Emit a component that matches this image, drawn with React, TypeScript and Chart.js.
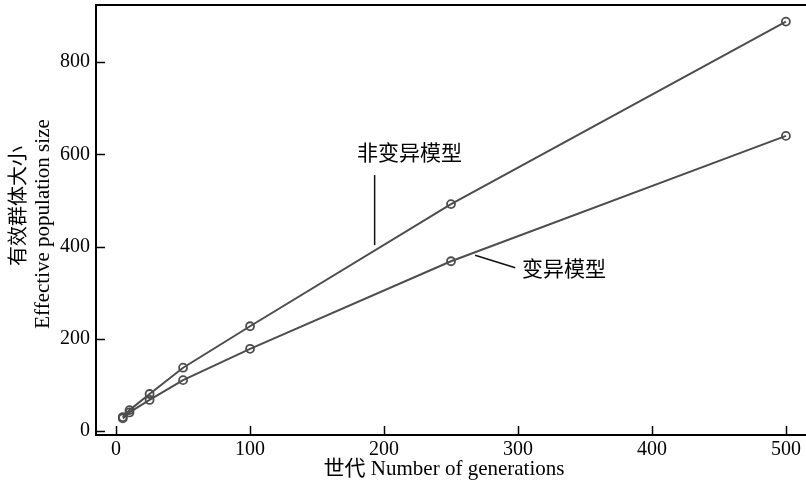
import { useEffect, useRef } from "react";
import { Chart, registerables } from "chart.js";

Chart.register(...registerables);

const generations = [5, 10, 25, 50, 100, 250, 500];
const nonMutationModel = [30, 45, 80, 137, 227, 492, 888];
const mutationModel = [27, 40, 67, 110, 178, 368, 640];
const xTickValues = [0, 100, 200, 300, 400, 500];
const yTickValues = [0, 200, 400, 600, 800];
const seriesLabels = ["非变异模型", "变异模型"];
const xTitle = "世代 Number of generations";
const yTitle = ["有效群体大小", "Effective population size"];

const FONT = "'Liberation Serif', 'Noto Sans CJK SC', serif";
const LINE_COLOR = "#4d4d4d";

const annotationPlugin = {
  id: "annotations",
  afterDraw(chart: any) {
    const { ctx, chartArea, scales } = chart;
    const x = scales.x;
    const y = scales.y;
    ctx.save();
    // top border
    ctx.strokeStyle = "#000";
    ctx.lineWidth = 2;
    ctx.beginPath();
    ctx.moveTo(chartArea.left - 1, chartArea.top);
    ctx.lineTo(chartArea.right + 2, chartArea.top);
    ctx.stroke();
    // inward ticks
    ctx.lineWidth = 1.5;
    x.ticks.forEach((t: any) => {
      const px = Math.round(x.getPixelForValue(t.value)) + 0.5;
      ctx.beginPath();
      ctx.moveTo(px, chartArea.bottom);
      ctx.lineTo(px, chartArea.bottom - 9);
      ctx.stroke();
    });
    y.ticks.forEach((t: any) => {
      const py = Math.round(y.getPixelForValue(t.value)) + 0.5;
      ctx.beginPath();
      ctx.moveTo(chartArea.left, py);
      ctx.lineTo(chartArea.left + 9, py);
      ctx.stroke();
    });
    // annotation leader lines
    ctx.strokeStyle = "#111";
    ctx.lineWidth = 1.5;
    ctx.beginPath();
    ctx.moveTo(x.getPixelForValue(193), y.getPixelForValue(555));
    ctx.lineTo(x.getPixelForValue(193), y.getPixelForValue(403));
    ctx.stroke();
    ctx.beginPath();
    ctx.moveTo(x.getPixelForValue(268), y.getPixelForValue(381));
    ctx.lineTo(x.getPixelForValue(298), y.getPixelForValue(354));
    ctx.stroke();
    // annotation texts
    ctx.fillStyle = "#000";
    ctx.font = `21px ${FONT}`;
    ctx.textBaseline = "middle";
    ctx.textAlign = "center";
    ctx.fillText(seriesLabels[0], x.getPixelForValue(219), y.getPixelForValue(599));
    ctx.textAlign = "left";
    ctx.fillText(seriesLabels[1], x.getPixelForValue(303), y.getPixelForValue(349));

    // axis titles
    ctx.textAlign = "center";
    ctx.textBaseline = "middle";
    ctx.font = `21px ${FONT}`;
    ctx.fillText(xTitle, 444, chartArea.bottom + 34);

    ctx.save();
    ctx.translate(20, chartArea.top + 201);
    ctx.rotate(-Math.PI / 2);
    ctx.font = `20px ${FONT}`;
    ctx.fillText(yTitle[0], 0, 0);
    ctx.restore();
    ctx.save();
    ctx.translate(43, chartArea.top + 219);
    ctx.rotate(-Math.PI / 2);
    ctx.font = `21px ${FONT}`;
    ctx.fillText(yTitle[1], 0, 0);
    ctx.restore();

    ctx.restore();
  },
};

export default function App() {
  const canvasRef = useRef<HTMLCanvasElement | null>(null);

  useEffect(() => {
    if (!canvasRef.current) return;
    const makeDataset = (label: string, values: number[]) => ({
      label,
      data: generations.map((g, i) => ({ x: g, y: values[i] })),
      borderColor: LINE_COLOR,
      borderWidth: 2,
      pointRadius: 4,
      pointBorderWidth: 1.8,
      pointBorderColor: LINE_COLOR,
      pointBackgroundColor: "rgba(255,255,255,0)",
      fill: false,
      tension: 0,
    });
    const chart = new Chart(canvasRef.current, {
      type: "line",
      data: {
        datasets: [
          makeDataset(seriesLabels[0], nonMutationModel),
          makeDataset(seriesLabels[1], mutationModel),
        ],
      },
      options: {
        animation: false,
        responsive: true,
        maintainAspectRatio: false,
        layout: { autoPadding: false, padding: { top: 5, right: 0, left: 0, bottom: 0 } },
        plugins: {
          legend: { display: false },
          tooltip: { enabled: false },
        },
        scales: {
          x: {
            type: "linear",
            min: -15,
            max: 515,
            grid: { display: false, drawTicks: false },
            border: { display: true, color: "#000", width: 2 },
            afterBuildTicks: (s: any) => {
              s.ticks = xTickValues.map((v) => ({ value: v }));
            },
            afterFit: (s: any) => {
              s.height = 52;
              s.paddingLeft = 0;
              s.paddingRight = 0;
            },
            ticks: {
              color: "#000",
              padding: 3,
              maxRotation: 0,
              font: { family: FONT, size: 20 },
            },
            title: { display: false },
          },
          y: {
            type: "linear",
            min: -9,
            max: 924,
            grid: { display: false, drawTicks: false },
            border: { display: true, color: "#000", width: 2 },
            afterBuildTicks: (s: any) => {
              s.ticks = yTickValues.map((v) => ({ value: v }));
            },
            afterFit: (s: any) => {
              s.width = 96;
              s.paddingTop = 0;
              s.paddingBottom = 0;
            },
            ticks: {
              color: "#000",
              padding: 6,
              font: { family: FONT, size: 20 },
            },
            title: { display: false },
          },
        },
      },
      plugins: [annotationPlugin],
    });
    return () => chart.destroy();
  }, []);

  return (
    <div style={{ position: "fixed", left: 0, top: 0, width: 806, height: 487, background: "#fff" }}>
      <canvas ref={canvasRef} />
    </div>
  );
}
